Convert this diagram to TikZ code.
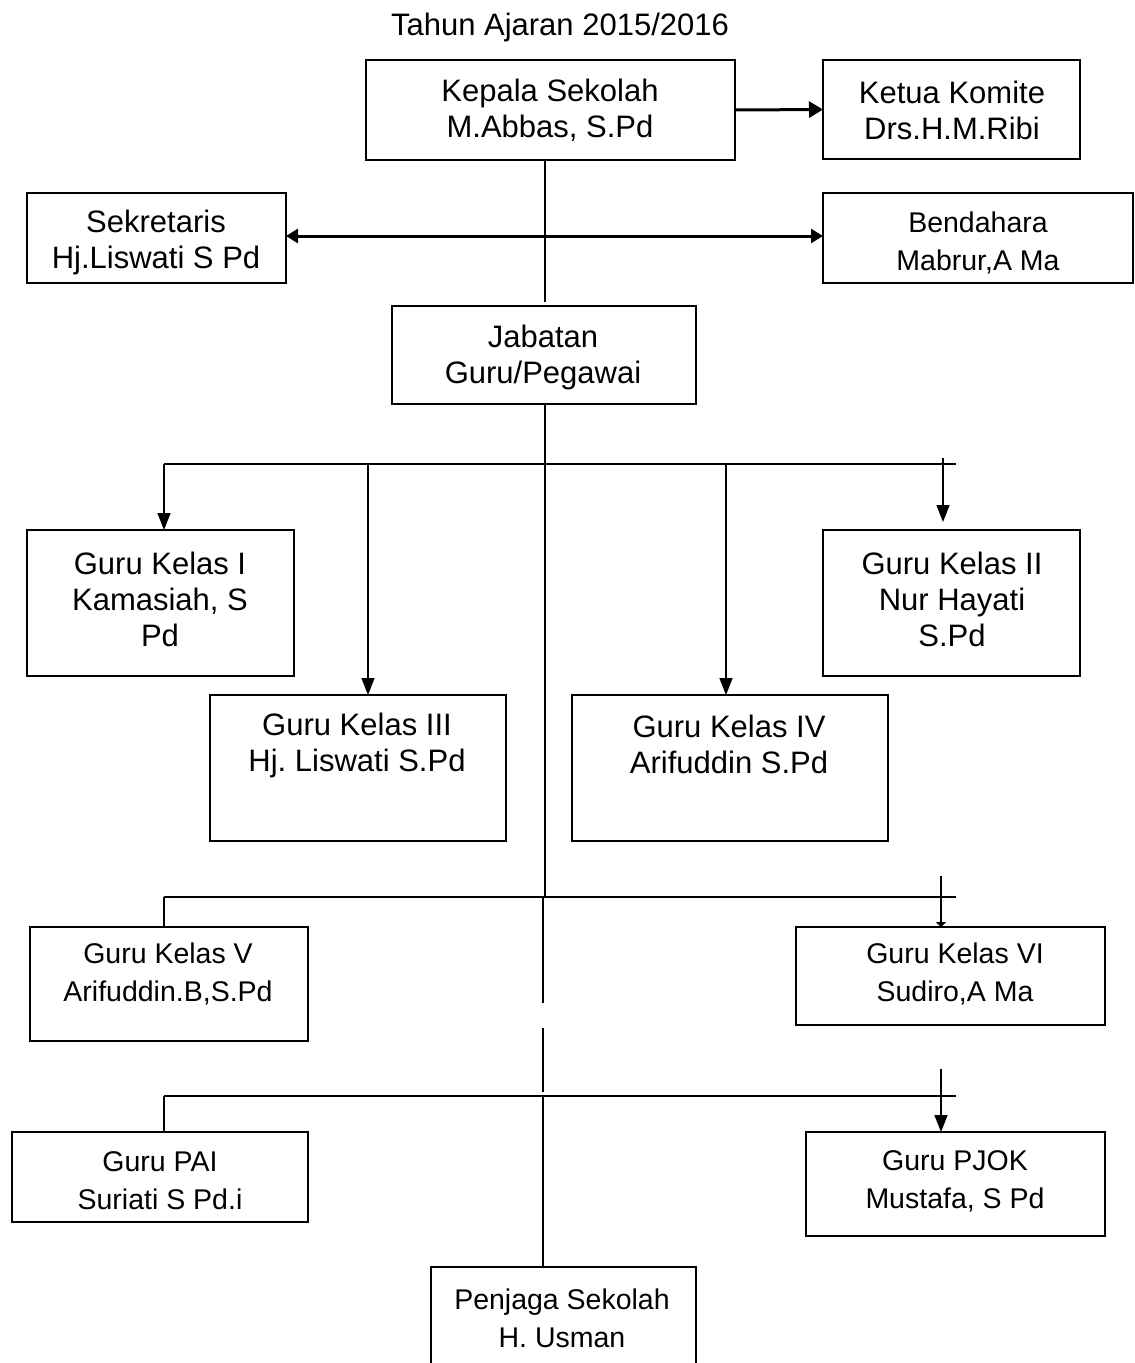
\documentclass[tikz,border=0pt]{standalone}
\usepackage{fontspec}
\setmainfont{Liberation Sans}
\usetikzlibrary{arrows.meta}
\newcommand\orgbox[5]{\node[box, minimum width={(#4-#2)*1pt}, minimum height={(#5-#3)*1pt}] (#1) at ({(#2+#4)/2},{(#3+#5)/2}) {};}
\begin{document}
\frenchspacing
\begin{tikzpicture}[x=1pt,y=-1pt,
  box/.style={draw, line width=1.8pt, inner sep=0pt, outer sep=0pt},
  big/.style={font=\fontsize{31}{36}\selectfont, align=center, inner sep=0pt},
  small/.style={font=\fontsize{28.5}{38}\selectfont, align=center, inner sep=0pt},
  thin/.style={line width=1.2pt},
  bus/.style={line width=2pt},
  arr/.style={line width=1.5pt, -{Triangle[length=17pt,width=13pt]}},
  thickarr/.style={line width=3pt, -{Triangle[length=14pt,width=16pt]}},
  dblarr/.style={line width=3pt, {Triangle[length=12pt,width=14pt]}-{Triangle[length=12pt,width=14pt]}},
  tinyarr/.style={line width=1.5pt, -{Triangle[length=5pt,width=10pt]}}]
\useasboundingbox (0,0) rectangle (1135,1363);
\clip (0,0) rectangle (1135,1363);
\fill[white] (0,0) rectangle (1135,1363);

% title
\node[big] (title) at (560,27) {Tahun Ajaran 2015/2016};

% boxes
\orgbox{kep}{366}{60}{735}{160}
\orgbox{ket}{823}{60}{1080}{159}
\orgbox{sek}{27}{193}{286}{283}
\orgbox{ben}{823}{193}{1133}{283}
\orgbox{jab}{392}{306}{696}{404}
\orgbox{k1}{27}{530}{294}{676}
\orgbox{k2}{823}{530}{1080}{676}
\orgbox{k3}{210}{695}{506}{841}
\orgbox{k4}{572}{695}{888}{841}
\orgbox{k5}{30}{927}{308}{1041}
\orgbox{k6}{796}{927}{1105}{1025}
\orgbox{pai}{12}{1132}{308}{1222}
\orgbox{pjok}{806}{1132}{1105}{1236}
\orgbox{pen}{431}{1267}{696}{1420}

% texts
\node[big] (kepT) at (550,110) {Kepala Sekolah\\M.Abbas, S.Pd};
\node[big] (ketT) at (952,110) {Ketua Komite\\Drs.H.M.Ribi};
\node[big] (sekT) at (156,242) {Sekretaris\\Hj.Liswati S Pd};
\node[small] (benT) at (978,243) {Bendahara\\Mabrur,A Ma};
\node[big] (jabT) at (543,357) {Jabatan\\Guru/Pegawai};
\node[big] (k1T) at (160,599) {Guru Kelas I\\Kamasiah, S\\Pd};
\node[big] (k2T) at (952,599) {Guru Kelas II\\Nur Hayati\\S.Pd};
\node[big] (k3T) at (357,745) {Guru Kelas III\\Hj. Liswati S.Pd};
\node[big] (k4T) at (729,744) {Guru Kelas IV\\Arifuddin S.Pd};
\node[small] (k5T) at (168,974) {Guru Kelas V\\Arifuddin.B,S.Pd};
\node[small] (k6T) at (955,974) {Guru Kelas VI\\Sudiro,A Ma};
\node[small] (paiT) at (160,1181) {Guru PAI\\Suriati S Pd.i};
\node[small] (pjokT) at (955,1181) {Guru PJOK\\Mustafa, S Pd};
\node[small] (penT) at (562,1318) {Penjaga Sekolah\\H. Usman};

% coordinates
\coordinate (c1) at (545,302);
\coordinate (c2) at (545,897);
\coordinate (c3a) at (543,897);
\coordinate (c3b) at (543,1003);
\coordinate (c4a) at (543,1028);
\coordinate (c4b) at (543,1092);
\coordinate (c5) at (543,1096);
\coordinate (b1l) at (164,464);
\coordinate (b1r) at (956,464);
\coordinate (b1c) at (368,464);
\coordinate (b1d) at (726,464);
\coordinate (a2s) at (943,458);
\coordinate (a2e) at (943,522);
\coordinate (b2l) at (164,897);
\coordinate (b2r) at (956,897);
\coordinate (a6s) at (941,876);
\coordinate (b3l) at (164,1096);
\coordinate (b3r) at (956,1096);
\coordinate (a8s) at (941,1069);

% connectors
\draw[thickarr] (kep.east) -- (ket.west);
\draw[thin] (c1 |- kep.south) -- (c1);
\draw[dblarr] (sek.east |- 0,236) -- (ben.west |- 0,236);
\draw[thin] (c1 |- jab.south) -- (c2);
\draw[bus] (b1l) -- (b1r);
\draw[arr] (b1l) -- (b1l |- k1.north);
\draw[arr] (b1c) -- (b1c |- k3.north);
\draw[arr] (b1d) -- (b1d |- k4.north);
\draw[arr] (a2s) -- (a2e);
\draw[bus] (b2l) -- (b2r);
\draw[bus] (b2l) -- (b2l |- k5.north);
\draw[tinyarr] (a6s) -- (a6s |- k6.north);
\draw[thin] (c3a) -- (c3b);
\draw[thin] (c4a) -- (c4b);
\draw[bus] (b3l) -- (b3r);
\draw[bus] (b3l) -- (b3l |- pai.north);
\draw[arr] (a8s) -- (a8s |- pjok.north);
\draw[bus] (c5) -- (c5 |- pen.north);
\end{tikzpicture}
\end{document}
